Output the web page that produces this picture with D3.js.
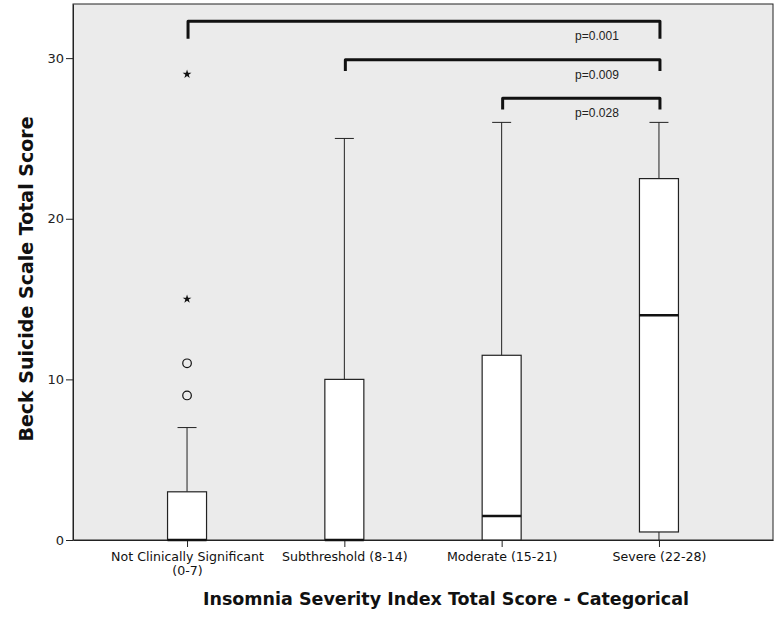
<!DOCTYPE html>
<html>
<head>
<meta charset="utf-8">
<script src="https://cdn.jsdelivr.net/npm/d3@7"></script>
<style>
  body { margin: 0; background: #fff; }
  text { font-family: "DejaVu Sans", sans-serif; }
</style>
</head>
<body>
<div id="grafico"></div>
<script>
// Categorias e estatísticas do boxplot
const categorias = [["Not Clinically Significant", "(0-7)"], ["Subthreshold (8-14)"], ["Moderate (15-21)"], ["Severe (22-28)"]];
const bigodeInf = [0, 0, 0, 0];
const q1 = [0, 0, 0, 0.5];
const mediana = [0, 0, 1.5, 14];
const q3 = [3, 10, 11.5, 22.5];
const bigodeSup = [7, 25, 26, 26];

// Outliers (círculo) e extremos (estrela)
const outliers = [{ cat: 0, valor: 9 }, { cat: 0, valor: 11 }];
const extremos = [{ cat: 0, valor: 15 }, { cat: 0, valor: 29 }];

// Comparações
const comparacoes = [
    { de: 0, ate: 3, topo: 32.3, perna: 31.2, p: "p=0.001" },
    { de: 1, ate: 3, topo: 29.9, perna: 29.2, p: "p=0.009" },
    { de: 2, ate: 3, topo: 27.5, perna: 26.8, p: "p=0.028" }
];

const ticksY = [0, 10, 20, 30];

const width = 780, height = 624;
const margin = { top: 4, right: 7, bottom: 84, left: 73 };
const w = width - margin.left - margin.right;
const h = height - margin.top - margin.bottom;

const svg = d3.select("#grafico").append("svg")
    .attr("width", width).attr("height", height);

const g = svg.append("g").attr("transform", `translate(${margin.left},${margin.top})`);

const x = d3.scalePoint().domain(d3.range(categorias.length)).range([0, w]).padding(0.725);
const y = d3.scaleLinear().domain([0, 33.37]).range([h, 0]);

// fundo
g.append("rect").attr("width", w).attr("height", h)
    .attr("fill", "#ebebeb").attr("stroke", "#222").attr("stroke-width", 1);

// eixo Y
const eixoY = g.append("g").call(d3.axisLeft(y).tickValues(ticksY).tickSize(7).tickSizeOuter(0).tickPadding(2));
eixoY.select(".domain").attr("stroke", "#222");
eixoY.selectAll(".tick line").attr("stroke", "#222");
eixoY.selectAll("text").attr("font-size", 13).attr("fill", "#222")
    .style("font-family", "DejaVu Sans");

// eixo X
const eixoX = g.append("g").attr("transform", `translate(0,${h})`)
    .call(d3.axisBottom(x).tickSize(7).tickSizeOuter(0).tickFormat(""));
eixoX.select(".domain").attr("stroke", "#222");
eixoX.selectAll(".tick line").attr("stroke", "#222");
eixoX.selectAll(".tick").each(function (d) {
    categorias[d].forEach((linha, i) => {
        d3.select(this).append("text").attr("fill", "#111")
            .attr("font-size", 12.6).attr("text-anchor", "middle")
            .attr("y", 21 + i * 13.5).text(linha);
    });
});

const larguraCaixa = 39, larguraCap = 19;

// boxplots
categorias.forEach((c, i) => {
    const cx = x(i);
    const bx = g.append("g");
    bx.append("line").attr("x1", cx).attr("x2", cx)
        .attr("y1", y(q3[i])).attr("y2", y(bigodeSup[i])).attr("stroke", "#222");
    bx.append("line").attr("x1", cx - larguraCap / 2).attr("x2", cx + larguraCap / 2)
        .attr("y1", y(bigodeSup[i])).attr("y2", y(bigodeSup[i])).attr("stroke", "#222");
    if (bigodeInf[i] < q1[i]) {
        bx.append("line").attr("x1", cx).attr("x2", cx)
            .attr("y1", y(q1[i])).attr("y2", y(bigodeInf[i])).attr("stroke", "#222");
    }
    bx.append("rect").attr("x", cx - larguraCaixa / 2).attr("width", larguraCaixa)
        .attr("y", y(q3[i])).attr("height", y(q1[i]) - y(q3[i]))
        .attr("fill", "#fff").attr("stroke", "#222").attr("stroke-width", 1.2);
    bx.append("line").attr("x1", cx - larguraCaixa / 2).attr("x2", cx + larguraCaixa / 2)
        .attr("y1", y(mediana[i])).attr("y2", y(mediana[i]))
        .attr("stroke", "#111").attr("stroke-width", 2.5);
});

// outliers
g.selectAll(".outlier").data(outliers).join("circle")
    .attr("cx", d => x(d.cat)).attr("cy", d => y(d.valor)).attr("r", 4.3)
    .attr("fill", "none").attr("stroke", "#111").attr("stroke-width", 1.2);

g.selectAll(".extremo").data(extremos).join("path")
    .attr("transform", d => `translate(${x(d.cat)},${y(d.valor)})`)
    .attr("d", d3.symbol().type(d3.symbolStar).size(24))
    .attr("fill", "#111");

// colchetes de comparação
comparacoes.forEach(c => {
    const x1 = x(c.de) + 1, x2 = x(c.ate) + 1;
    g.append("path")
        .attr("d", `M${x1},${y(c.perna)}V${y(c.topo)}H${x2}V${y(c.perna)}`)
        .attr("fill", "none").attr("stroke", "#111").attr("stroke-width", 3)
        .attr("stroke-linejoin", "round");
    g.append("text").attr("x", x(3) - 62).attr("y", y(c.topo) + 19)
        .attr("text-anchor", "middle").attr("font-size", 12)
        .style("font-family", "Liberation Sans, Arial, sans-serif")
        .attr("fill", "#222").text(c.p);
});

// títulos
svg.append("text").attr("x", 446).attr("y", 605).attr("text-anchor", "middle")
    .attr("font-size", 17.5).attr("font-weight", "bold").attr("fill", "#111")
    .text("Insomnia Severity Index Total Score - Categorical");

svg.append("text").attr("transform", "translate(33,279) rotate(-90)")
    .attr("text-anchor", "middle").attr("font-size", 19).attr("font-weight", "bold").attr("fill", "#111")
    .text("Beck Suicide Scale Total Score");
</script>
</body>
</html>
